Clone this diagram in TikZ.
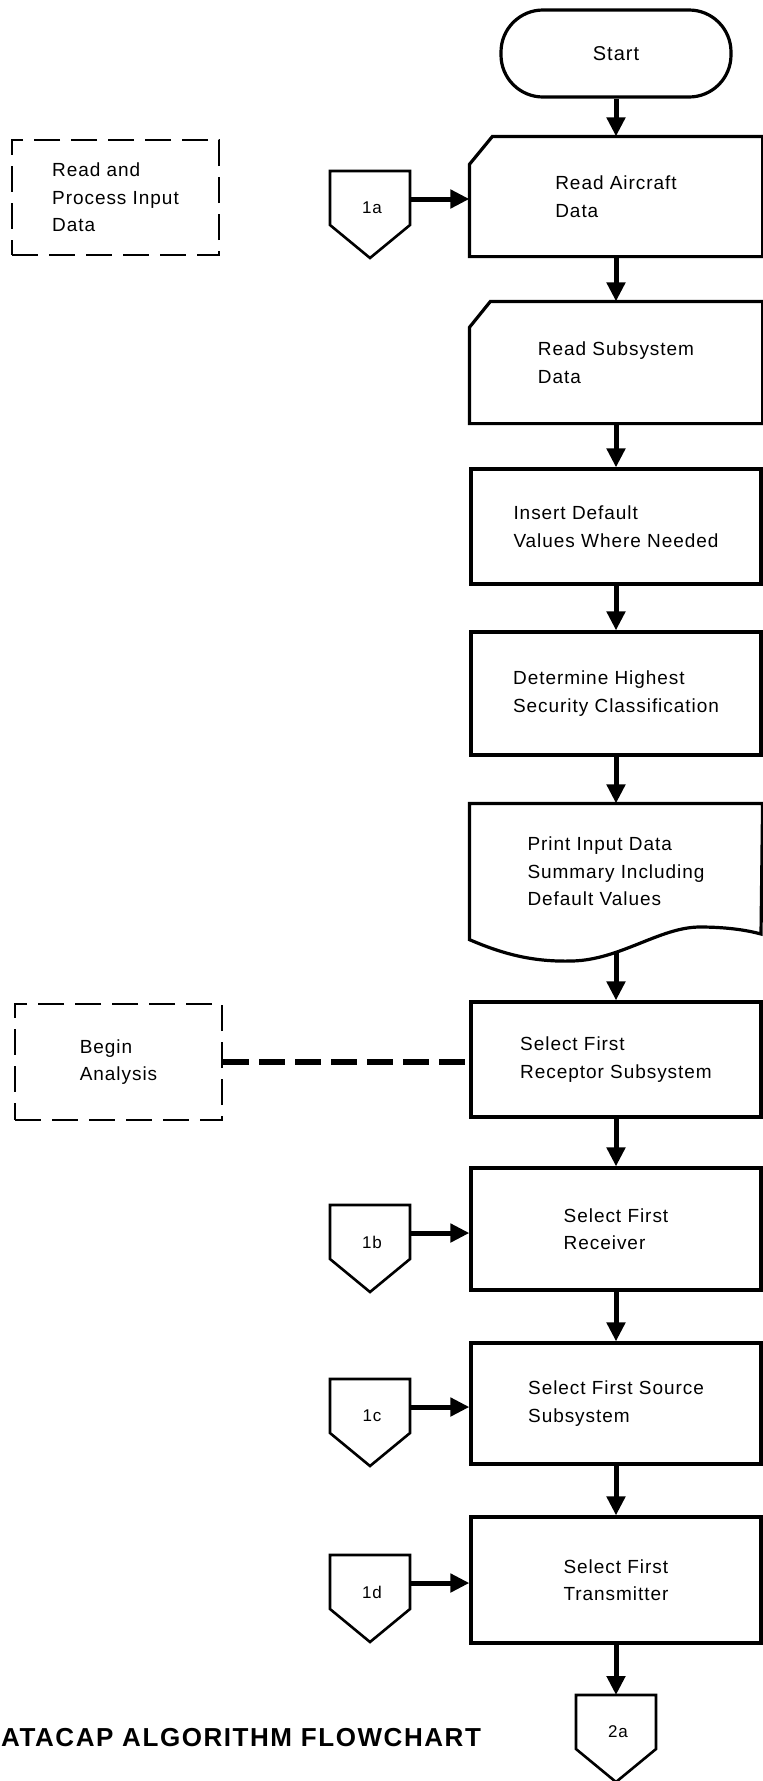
\documentclass[tikz,border=0pt]{standalone}
\usepackage{fontspec}
\usetikzlibrary{arrows.meta,calc}
\newfontfamily\boxfont[LetterSpace=5]{Liberation Sans}
\newfontfamily\ttlfont[LetterSpace=6]{Liberation Sans}
\tikzset{
  boxline/.style={line width=3.2pt, line join=miter},
  txt/.style={font={\boxfont\fontsize{19pt}{27.5pt}\selectfont}},
  procbox/.style={rectangle, draw, boxline, minimum width=290pt, inner sep=0pt, align=left, txt},
  shapebox/.style={procbox, draw=none},
  termbox/.style={rectangle, draw, boxline, rounded corners=42pt, minimum width=230pt, minimum height=87pt, inner sep=0pt, font={\boxfont\fontsize{20pt}{24pt}\selectfont}},
  notebox/.style={rectangle, draw, line width=2.8pt, dash pattern=on 26pt off 11pt, minimum width=207pt, inner sep=0pt, align=left, txt},
  arr/.style={line width=5pt, -{Triangle[length=19pt,width=18pt]}},
  dconn/.style={line width=6pt, dash pattern=on 26pt off 10pt},
  connline/.style={line width=2.6pt, line join=miter},
  connfont/.style={font={\boxfont\fontsize{17pt}{19pt}\selectfont}, inner sep=0pt},
  ttl/.style={font={\ttlfont\bfseries\fontsize{26pt}{30pt}\selectfont}, inner sep=0pt, anchor=west}
}
\newcommand{\pentconn}[4]{%
  \draw[connline] (#2-40,#3) -- (#2+40,#3) -- (#2+40,#3+54) -- (#2,#3+87) -- (#2-40,#3+54) -- cycle;
  \node[connfont] (#1) at (#2+2,#3+37) {#4};
  \coordinate (#1-r) at (#2+40,#3+28);
  \coordinate (#1-t) at (#2,#3);
}
\begin{document}
\begin{tikzpicture}[x=1pt,y=-1pt]
\fill[white] (0,0) rectangle (763,1781);
\useasboundingbox (0,0) rectangle (763,1781);

% terminal
\node[termbox] (start) at (616,53.5) {Start};

% read aircraft data (card)
\node[shapebox, minimum height=117pt] (rac) at (616,196.5) {Read Aircraft\\Data};
\draw[boxline] ($(rac.north west)+(0,28)$) -- ($(rac.north west)+(23,0)$) -- (rac.north east) -- (rac.south east) -- (rac.south west) -- cycle;

% read subsystem data (card)
\node[shapebox, minimum height=119pt] (rsd) at (616,362.5) {Read Subsystem\\Data};
\draw[boxline] ($(rsd.north west)+(0,26)$) -- ($(rsd.north west)+(21,0)$) -- (rsd.north east) -- (rsd.south east) -- (rsd.south west) -- cycle;

\node[procbox, minimum height=115pt] (ins) at (616,526.5) {Insert Default\\Values Where Needed};
\node[procbox, minimum height=123pt] (det) at (616,693.5) {Determine Highest\\Security Classification};

% document shape
\node[shapebox, minimum height=133pt] (prt) at (616,871.5) {Print Input Data\\Summary Including\\Default Values};
\draw[boxline] (prt.south west) -- (prt.north west) -- (prt.north east) -- (761,934)
  .. controls (750,931) and (730,927) .. (700,927)
  .. controls (660,927) and (620,960) .. (572,961)
  .. controls (535,962) and (505,955) .. (prt.south west) -- cycle;
\coordinate (prtb) at (616,952);

\node[procbox, minimum height=115pt] (rec) at (616,1059.5) {Select First\\Receptor Subsystem};
\node[procbox, minimum height=122pt] (rcv) at (616,1229) {Select First\\Receiver};
\node[procbox, minimum height=121pt] (src) at (616,1403.5) {Select First Source\\Subsystem};
\node[procbox, minimum height=126pt] (trn) at (616,1580) {Select First\\Transmitter};

% annotation boxes
\node[notebox, minimum height=115pt] (rpi) at (115.5,197.5) {Read and\\Process Input\\Data};
\node[notebox, minimum height=116pt] (beg) at (118.5,1062) {Begin\\Analysis};

% off-page connectors
\pentconn{c1a}{370}{171}{1a}
\pentconn{c1b}{370}{1205}{1b}
\pentconn{c1c}{370}{1379}{1c}
\pentconn{c1d}{370}{1555}{1d}
\pentconn{c2a}{616}{1695}{2a}

% main flow
\draw[arr] (start.south) -- (rac.north);
\draw[arr] (rac.south) -- (rsd.north);
\draw[arr] (rsd.south) -- (ins.north);
\draw[arr] (ins.south) -- (det.north);
\draw[arr] (det.south) -- (prt.north);
\draw[arr] (prtb) -- (rec.north);
\draw[arr] (rec.south) -- (rcv.north);
\draw[arr] (rcv.south) -- (src.north);
\draw[arr] (src.south) -- (trn.north);
\draw[arr] (trn.south) -- (c2a-t);

% side entries
\draw[arr] (c1a-r) -- (c1a-r -| rac.west);
\draw[arr] (c1b-r) -- (c1b-r -| rcv.west);
\draw[arr] (c1c-r) -- (c1c-r -| src.west);
\draw[arr] (c1d-r) -- (c1d-r -| trn.west);

% annotation link
\draw[dconn] (beg.east) -- (beg.east -| rec.west);

% title
\node[ttl] (title) at (1,1738) {ATACAP ALGORITHM FLOWCHART};
\end{tikzpicture}
\end{document}
